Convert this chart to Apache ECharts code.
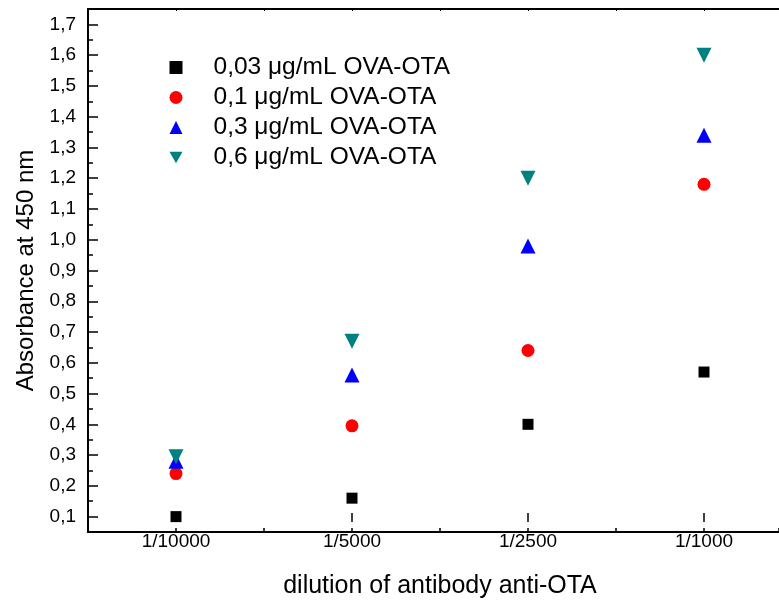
<!DOCTYPE html>
<html>
<head>
<meta charset="utf-8">
<script src="https://cdn.jsdelivr.net/npm/echarts@6/dist/echarts.min.js"></script>
<style>html,body{margin:0;padding:0;background:#fff}#c{width:779px;height:604px}</style>
</head>
<body>
<div id="c"></div>
<script>
// ---- data ----
const categories = ['1/10000', '1/5000', '1/2500', '1/1000'];
const seriesNames = ['0,03 μg/mL OVA-OTA', '0,1 μg/mL OVA-OTA', '0,3 μg/mL OVA-OTA', '0,6 μg/mL OVA-OTA'];
const ova003 = [0.10, 0.16, 0.40, 0.57];
const ova01 = [0.24, 0.395, 0.64, 1.18];
const ova03 = [0.28, 0.56, 0.98, 1.34];
const ova06 = [0.295, 0.67, 1.20, 1.60];
const yTickMin = 0.1, yTickMax = 1.7, yTickStep = 0.1;
const xTitle = 'dilution of antibody anti-OTA';
const yTitle = 'Absorbance at 450 nm';

// ---- layout ----
const W = 779, H = 604;
const L = 88, T = 9, B = 532, step = 176;
const yMin = 0.05, yMax = 1.75;
const plotH = B - T;
const pxPerUnit = plotH / (yMax - yMin);
const xMin = 0.5;
const xMax = xMin + (W - L) / step; // plot continues past the right edge of the picture
const FONT = 'Liberation Sans, Arial, sans-serif';

const axisLine = { show: true, lineStyle: { color: '#000', width: 2 } };

const chart = echarts.init(document.getElementById('c'), null, { renderer: 'canvas' });

const mk = (name, vals, symbol, size, color) => ({
  name: name,
  type: 'scatter',
  xAxisIndex: 0, yAxisIndex: 0,
  symbol: symbol,
  symbolSize: size,
  itemStyle: { color: color, opacity: 1 },
  data: vals.map((v, i) => [i + 1, v]),
  z: 5
});

const firstMajorX = L + (1 - xMin) * step;
const lastMajorX = L + (categories.length - xMin) * step;

chart.setOption({
  animation: false,
  backgroundColor: '#fff',
  textStyle: { fontFamily: FONT },
  grid: [
    { left: L, right: 0, top: T, bottom: H - B },
    { left: firstMajorX, right: W - lastMajorX, top: T, bottom: H - B },
    { left: L, right: 0, top: T + (yMax - yTickMax) * pxPerUnit, bottom: H - (B - (yTickMin - yMin) * pxPerUnit) }
  ],
  legend: {
    orient: 'vertical',
    left: 169.5,
    top: 55,
    padding: 0,
    itemWidth: 13,
    itemHeight: 13,
    itemGap: 5,
    data: seriesNames,
    textStyle: { fontFamily: FONT, fontSize: 24.5, color: '#000', lineHeight: 24, padding: [0, 0, 0, 26] }
  },
  xAxis: [
    { // main bottom axis, minor ticks
      gridIndex: 0, type: 'value', min: xMin, max: xMax, interval: 0.5,
      position: 'bottom', axisLine: axisLine,
      axisTick: { show: true, inside: true, length: 4, lineStyle: { color: '#000', width: 1.5 } },
      axisLabel: { show: false }, splitLine: { show: false }
    },
    { // top border
      gridIndex: 0, type: 'value', min: xMin, max: xMax, interval: 0.5,
      position: 'top', axisLine: axisLine,
      axisTick: { show: true, inside: true, length: 2, lineStyle: { color: '#000', width: 1 } },
      axisLabel: { show: false }, splitLine: { show: false }
    },
    { // major ticks + labels
      gridIndex: 1, type: 'value', min: 1, max: categories.length, interval: 1,
      position: 'bottom', axisLine: { show: false },
      axisTick: { show: true, inside: true, length: 9, lineStyle: { color: '#000', width: 1.5 } },
      axisLabel: { show: true, margin: 10, fontSize: 19, color: '#000', fontFamily: FONT,
        formatter: v => categories[Math.round(v) - 1] },
      splitLine: { show: false },
      name: xTitle, nameLocation: 'middle', nameGap: 52,
      nameTextStyle: { fontSize: 25, color: '#000', fontFamily: FONT }
    },
    { gridIndex: 2, type: 'value', min: 0, max: 1, show: false }
  ],
  yAxis: [
    { // main left axis, minor ticks
      gridIndex: 0, type: 'value', min: yMin, max: yMax, interval: 0.05,
      axisLine: axisLine,
      axisTick: { show: true, inside: true, length: 5, lineStyle: { color: '#000', width: 1.5 } },
      axisLabel: { show: false }, splitLine: { show: false }
    },
    { gridIndex: 1, type: 'value', min: 0, max: 1, show: false },
    { // major ticks + labels
      gridIndex: 2, type: 'value', min: yTickMin, max: yTickMax, interval: yTickStep,
      axisLine: { show: false },
      axisTick: { show: true, inside: true, length: 10, lineStyle: { color: '#000', width: 1.5 } },
      axisLabel: { show: true, margin: 12, fontSize: 19, color: '#000', fontFamily: FONT,
        formatter: v => v.toFixed(1).replace('.', ',') },
      splitLine: { show: false },
      name: yTitle, nameLocation: 'middle', nameGap: 46,
      nameTextStyle: { fontSize: 24, color: '#000', fontFamily: FONT }
    }
  ],
  series: [
    mk(seriesNames[0], ova003, 'rect', 11, '#000000'),
    mk(seriesNames[1], ova01, 'circle', 13, '#ff0000'),
    mk(seriesNames[2], ova03, 'triangle', 15, '#0000ff'),
    mk(seriesNames[3], ova06, 'path://M0,0 L10,0 L5,8.66 Z', 15, '#008080')
  ]
});
</script>
</body>
</html>
